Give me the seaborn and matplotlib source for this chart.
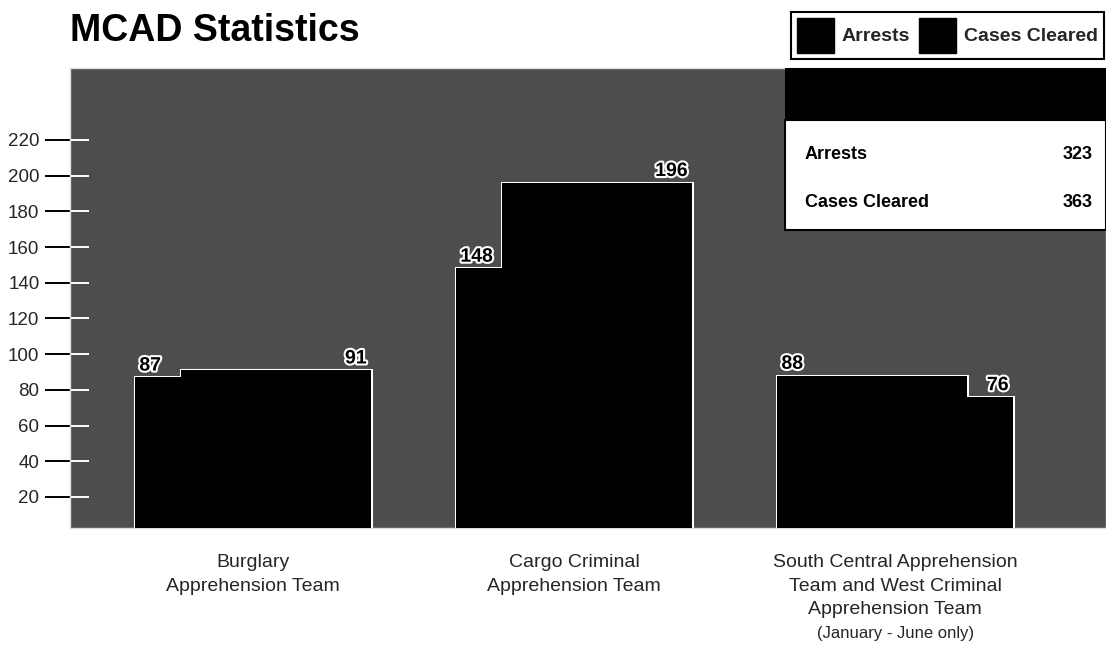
import numpy as np
import matplotlib
matplotlib.use('Agg')
import matplotlib.pyplot as plt
import matplotlib.patheffects as pe
from matplotlib.patches import Patch, Rectangle
import seaborn as sns

# data
teams = ['Burglary\nApprehension Team',
         'Cargo Criminal\nApprehension Team',
         'South Central Apprehension\nTeam and West Criminal\nApprehension Team']
team_note = '(January - June only)'
arrests = [87, 148, 88]
cases_cleared = [91, 196, 76]
series = ['Arrests', 'Cases Cleared']
y_ticks = [20, 40, 60, 80, 100, 120, 140, 160, 180, 200, 220]

sns.set_theme(style='white')
plt.rcParams['font.family'] = ['Liberation Sans Narrow', 'Liberation Sans', 'DejaVu Sans']

fig = plt.figure(figsize=(11.06, 6.6), dpi=100)
ax = fig.add_axes([70 / 1106, 132 / 660, 1036 / 1106, 460 / 660])
ax.set_facecolor('#4d4d4d')

pos = np.arange(len(teams))
shift = 0.072
bar_w = 0.59
colors = ['#000000', '#000000']

# outlined bars first, then plain fills on top so only the outline of the union shows
for vals, off, col in [(arrests, -shift, colors[0]), (cases_cleared, shift, colors[1])]:
    sns.barplot(x=pos + off, y=vals, native_scale=True, width=bar_w, color=col,
                saturation=1, edgecolor='white', linewidth=2.2, ax=ax, zorder=2)
outlined = list(ax.patches)
for p in outlined:
    ax.add_patch(Rectangle(p.get_xy(), p.get_width(), p.get_height(),
                           facecolor=p.get_facecolor(), edgecolor='none', zorder=3))

# value labels: arrests at the left edge, cases cleared at the right edge
stroke = [pe.withStroke(linewidth=3, foreground='white')]
n = len(teams)
for i, p in enumerate(outlined):
    top = p.get_height()
    if i < n:
        xy, dx, ha = (p.get_x(), top), 3, 'left'
    else:
        xy, dx, ha = (p.get_x() + p.get_width(), top), -3, 'right'
    ax.annotate(f'{top:.0f}', xy, xytext=(dx, 2), textcoords='offset points',
                ha=ha, va='bottom', color='black', fontsize=14, fontweight='bold',
                path_effects=stroke, zorder=5)

ax.set_xlim(-0.57, 2.657)
ax.set_ylim(2.6, 260.3)
ax.set_xticks(pos)
ax.set_xticklabels(teams, fontsize=14, linespacing=1.5, va='top')
ax.tick_params(axis='x', length=0, pad=19)
ax.text(pos[-1], -0.213, team_note, transform=ax.get_xaxis_transform(),
        ha='center', va='top', fontsize=12)

ax.set_yticks(y_ticks)
ax.set_yticklabels([str(v) for v in y_ticks], fontsize=13.5)
ax.tick_params(axis='y', which='major', direction='out', length=18, width=1.4,
               color='black', pad=4, left=True)
ax.set_yticks(y_ticks, minor=True)
ax.yaxis.remove_overlapping_locs = False
ax.tick_params(axis='y', which='minor', direction='in', length=14, width=1.4,
               color='white', left=True)
ax.set_xlabel('')
ax.set_ylabel('')
for s in ax.spines.values():
    s.set_color('#dddddd')
    s.set_linewidth(1)

# totals box in the upper right corner of the plot
tx0 = 0.690
ax.add_patch(Rectangle((tx0, 0.887), 1 - tx0, 0.113, transform=ax.transAxes,
                       facecolor='black', edgecolor='none', zorder=6, clip_on=False))
ax.add_patch(Rectangle((tx0, 0.648), 1 - tx0, 0.239, transform=ax.transAxes,
                       facecolor='white', edgecolor='black', linewidth=1.5, zorder=6,
                       clip_on=False))
totals = [sum(arrests), sum(cases_cleared)]
for name, tot, yy in zip(series, totals, [0.811, 0.707]):
    ax.text(tx0 + 0.019, yy, name, transform=ax.transAxes, ha='left', va='center',
            fontsize=13, fontweight='bold', color='black', zorder=7)
    ax.text(0.987, yy, str(tot), transform=ax.transAxes, ha='right', va='center',
            fontsize=13, fontweight='bold', color='black', zorder=7)

fig.text(70 / 1106, 1 - 31 / 660, 'MCAD Statistics', ha='left', va='center',
         fontsize=27, fontweight='bold', color='black')

handles = [Patch(facecolor=c, edgecolor='black') for c in colors]
leg = fig.legend(handles, series, loc='upper right', bbox_to_anchor=(1 - 2 / 1106, 1 - 12 / 660),
                 ncol=2, prop={'weight': 'bold', 'size': 14}, borderaxespad=0,
                 handlelength=1.9, handleheight=2.4, handletextpad=0.4,
                 columnspacing=0.5, borderpad=0.3, fancybox=False, framealpha=1)
leg.get_frame().set_edgecolor('black')
leg.get_frame().set_linewidth(1.5)

fig.savefig('out.png', dpi=100, facecolor='white')
